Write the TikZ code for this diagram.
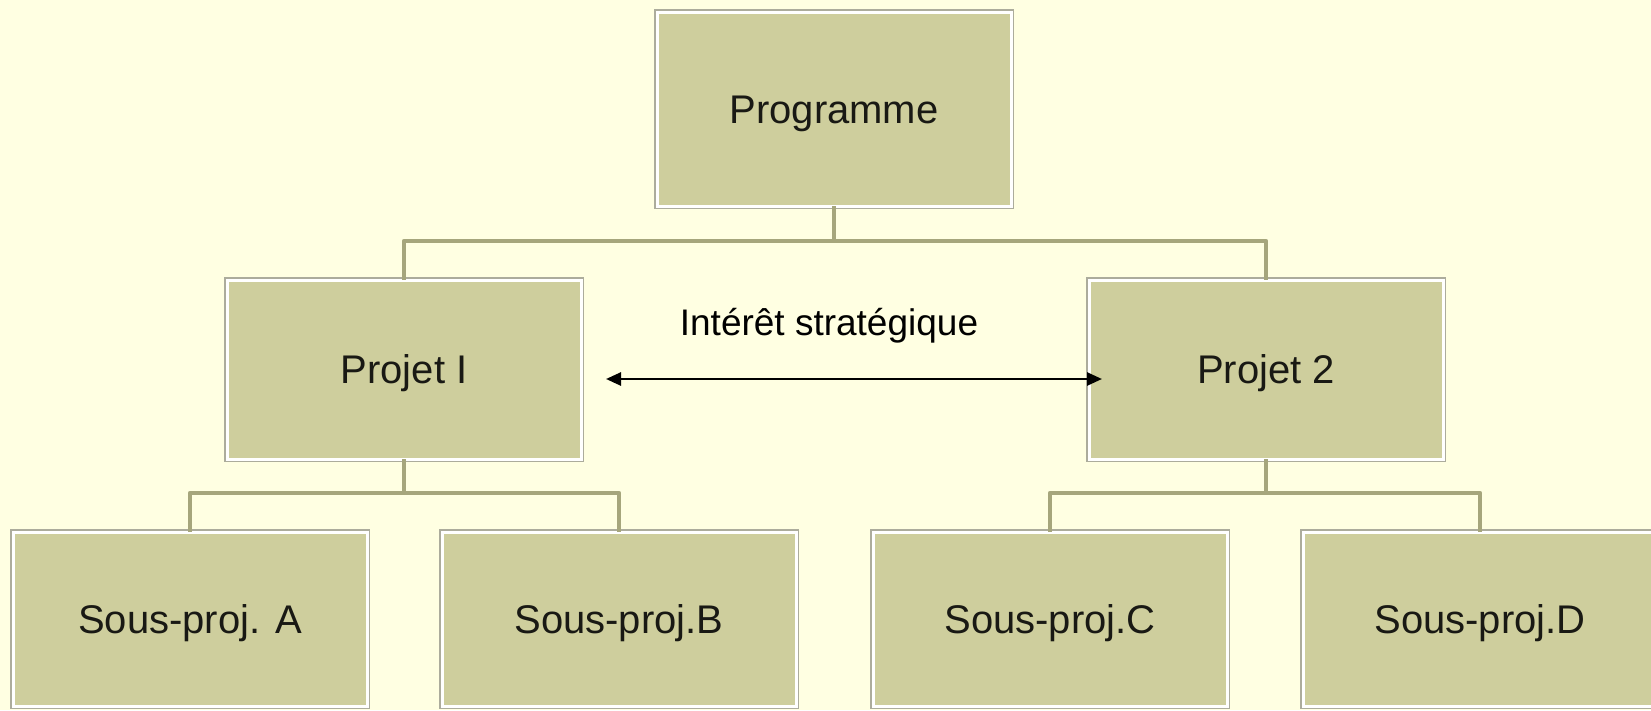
\documentclass[tikz,border=0pt]{standalone}
\usepackage{fontspec}
\setmainfont{Liberation Sans}
\usetikzlibrary{arrows.meta}
\definecolor{bgcol}{RGB}{255,255,226}
\definecolor{boxfill}{RGB}{206,206,157}
\definecolor{boxline}{RGB}{172,172,156}
\definecolor{conncol}{RGB}{166,166,124}
\definecolor{txtcol}{RGB}{25,25,20}
\tikzset{
  box/.style={rectangle, fill=boxfill, draw=white, line width=3pt,
    preaction={draw=boxline, line width=5.4pt},
    inner sep=0pt, outer sep=0pt, text height=28.8pt, text depth=0pt,
    minimum width=354pt, text=txtcol,
    font=\fontsize{40pt}{48pt}\selectfont},
  topbox/.style={box, minimum height=194pt},
  midbox/.style={box, minimum height=179pt},
  lowbox/.style={box, minimum height=174pt},
  conn/.style={draw=conncol, line width=4.5pt, line join=round},
  biarrow/.style={draw=black, line width=2.6pt,
    {Triangle[length=15pt,width=13pt]}-{Triangle[length=15pt,width=13pt]}},
  lbl/.style={anchor=base, inner sep=0pt, text=black,
    font=\fontsize{37pt}{44pt}\selectfont}
}
\begin{document}
\begin{tikzpicture}[x=1pt,y=-1pt]
\fill[bgcol] (0,0) rectangle (1651,710);
\useasboundingbox (0,0) rectangle (1651,710);
% nodes
\node[topbox] (prog) at (834,109) {Programme};
\node[midbox] (p1) at (404,369.5) {Projet I};
\node[midbox] (p2) at (1266,369.5) {Projet 2};
\node[lowbox] (sa) at (190,619) {Sous-proj. A};
\node[lowbox] (sb) at (619,619) {Sous-proj.B};
\node[lowbox] (sc) at (1050,619) {Sous-proj.C};
\node[lowbox] (sd) at (1480,619) {Sous-proj.D};
\node[lbl] (lab) at (829,335) {Intérêt stratégique};
% connectors
\draw[conn] (prog.south) -- ++(0,35) -| (p1.north);
\draw[conn] (prog.south) -- ++(0,35) -| (p2.north);
\draw[conn] (p1.south) -- ++(0,34) -| (sa.north);
\draw[conn] (p1.south) -- ++(0,34) -| (sb.north);
\draw[conn] (p2.south) -- ++(0,34) -| (sc.north);
\draw[conn] (p2.south) -- ++(0,34) -| (sd.north);
% strategic interest arrow
\draw[biarrow] ([xshift=25pt,yshift=-9.5pt]p1.east) -- ([xshift=13pt,yshift=-9.5pt]p2.west);
\end{tikzpicture}
\end{document}
